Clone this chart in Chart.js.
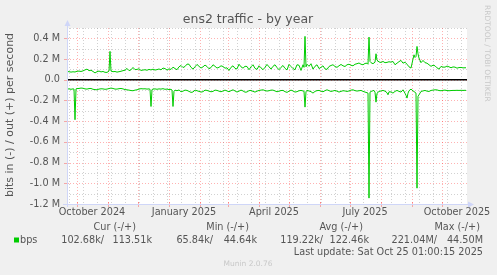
<!DOCTYPE html>
<html>
<head>
<meta charset="utf-8">
<script src="https://cdn.jsdelivr.net/npm/chart.js@4.4.1/dist/chart.umd.min.js"></script>
<style>
  html, body { margin: 0; padding: 0; background: #f0f0f0; }
</style>
</head>
<body>
<canvas id="trafficChart" width="497" height="275"></canvas>
<script>
// day 0 = Sat 2024-09-21, one day per pixel like the rrd year graph
var outDays = [0,2,4,6,8,10,12,14,16,18, 20,22,24,26,28,30,32,34,36,38,
  40,42,43,44,46,48,50,52,54,56, 58,60,62,64,66,68,70,72,74,76,
  78,80,82,84,86,88,90,92,94,96, 98,100,102,104,106,108,110,112,114,116,
  118,120,122,124,126,128,130,132,134,136, 138,140,142,144,146,148,150,152,154,156,
  158,160,162,164,166,168,170,172,174,176, 178,180,182,184,186,188,190,192,194,196,
  198,200,202,204,206,208,210,212,214,216, 218,220,222,224,226,228,230,232,234,236,
  237,238,239,240,242,244,246,248,250,252, 254,256,258,260,262,264,266,268,270,272,
  274,276,278,280,282,284,286,288,290,292, 294,296,298,300,301,302,303,304,306,308,
  309,310,312,314,316,318,320,322,324,326, 328,330,332,334,336,338,340,342,344,346,
  347,348,349,350,351,352,354,356,358,360, 362,364,366,368,370,372,374,376,378,380,
  382,384,386,388,390,392,394,396,398,399];
// out (+), kbit/s
var outKbps = [80,78,74,77,75,82,84,80,86,95, 103,88,92,80,66,78,84,76,80,72,
  71,84,274,84,78,80,74,78,82,88, 92,110,88,96,119,98,100,106,90,94,
  97,92,100,95,102,94,98,104,96,113, 108,94,105,100,122,108,97,125,138,118,
  128,151,150,120,103,125,148,130,113,125, 142,128,106,118,145,130,113,120,135,128,
  112,115,90,120,135,110,105,150,125,112, 130,128,97,125,145,110,100,135,115,97,
  120,148,125,103,130,145,118,97,120,138, 110,95,148,128,108,97,145,140,90,145,
  120,419,125,150,130,155,103,130,145,108, 120,135,105,100,128,138,145,128,120,135,
  148,135,128,145,150,140,135,150,155,162, 150,145,158,160,150,412,177,165,155,170,
  251,190,172,167,177,165,168,174,170,177, 145,160,175,187,160,170,150,125,113,200,
  241,215,225,322,250,209,165,187,165,160, 145,130,140,135,115,103,129,122,122,132,
  125,116,124,122,112,118,119,115,116,116];

var inDays = [0,2,4,6,7,8,9,10,12,14, 16,18,20,22,24,26,28,30,32,34,
  36,38,40,42,44,46,48,50,52,54, 56,58,60,62,64,66,68,70,72,74,
  76,78,80,82,83,84,85,86,88,90, 92,94,96,98,100,102,104,105,106,107,
  108,110,112,114,116,118,120,122,124,126, 128,130,132,134,136,138,140,142,144,146,
  148,150,152,154,156,158,160,162,164,166, 168,170,172,174,176,178,180,182,184,186,
  188,190,192,194,196,198,200,202,204,206, 208,210,212,214,216,218,220,222,224,226,
  228,230,232,234,236,237,238,239,240,242, 244,246,248,250,252,254,256,258,260,262,
  264,266,268,270,272,274,276,278,280,282, 284,286,288,290,292,294,296,298,300,301,
  302,303,304,306,307,308,309,310,312,314, 316,318,320,321,322,324,326,328,330,332,
  334,336,338,339,340,341,342,344,346,347, 348,349,350,351,352,354,356,358,360,362,
  364,366,368,370,372,374,376,378,380,382, 384,386,388,390,392,394,396,398,399];
// in (-), kbit/s, plotted below zero
var inKbps = [90,88,92,88,90,386,88,85,84,80, 82,88,90,85,84,92,95,97,90,87,
  88,92,90,85,80,84,90,90,86,84, 88,95,97,100,104,106,100,97,90,86,
  88,87,90,88,92,258,95,90,88,92, 88,90,86,92,90,95,92,100,258,110,
  100,106,98,116,110,100,103,112,122,118, 100,106,112,119,115,100,103,110,116,112,
  100,103,110,116,108,100,108,116,105,97, 108,119,110,100,108,120,118,105,103,112,
  119,110,103,100,97,104,109,106,100,100, 108,116,110,104,103,115,122,110,100,108,
  119,115,106,103,108,110,264,112,103,108, 115,129,112,105,103,110,116,105,97,105,
  113,108,103,110,119,112,106,108,113,108, 100,97,105,109,106,103,112,119,125,129,
  1143,120,113,106,103,120,216,130,113,108, 103,110,125,145,116,118,129,112,103,112,
  119,97,130,150,177,130,106,90,108,113, 122,129,1047,160,145,113,108,103,110,113,
  103,100,97,98,104,106,102,100,104,106, 104,103,103,102,103,102,103,102,103];

var monthStarts = [10, 41, 71, 102, 133, 161, 192, 222, 253, 283, 314, 345, 375];
var labelDays = [25, 117, 207, 298, 390];
var labelNames = ["October 2024", "January 2025", "April 2025", "July 2025", "October 2025"];
var yTickValues = [-1200000, -1000000, -800000, -600000, -400000, -200000, 0, 200000, 400000];

var FONT = "DejaVu Sans";
var TEXT = "#555555";
var AXIS = "#CFD6F8";

function crisp(v) { return Math.round(v) + 0.5; }

var muninFrame = {
  id: "muninFrame",
  beforeDraw: function(chart) {
    var ctx = chart.ctx, a = chart.chartArea;
    ctx.save();
    ctx.fillStyle = "#f0f0f0";
    ctx.fillRect(0, 0, chart.width, chart.height);
    ctx.fillStyle = "#ffffff";
    ctx.fillRect(a.left, a.top, a.right - a.left, a.bottom - a.top);
    ctx.restore();
  },
  beforeDatasetsDraw: function(chart) {
    var ctx = chart.ctx, a = chart.chartArea;
    var xs = chart.scales.x, ys = chart.scales.y;
    ctx.save();
    ctx.lineWidth = 1;
    ctx.setLineDash([1, 2]);

    // minor grid
    ctx.strokeStyle = "rgba(140,140,140,0.4)";
    ctx.beginPath();
    for (var v = -1100000; v <= 500000; v += 200000) {
      var py = crisp(ys.getPixelForValue(v));
      ctx.moveTo(a.left, py); ctx.lineTo(a.right, py);
    }
    for (var d = 2; d < 400; d += 14) {
      var px = crisp(xs.getPixelForValue(d));
      ctx.moveTo(px, a.top); ctx.lineTo(px, a.bottom);
    }
    ctx.stroke();

    // major grid
    ctx.strokeStyle = "rgba(255,0,0,0.3)";
    ctx.beginPath();
    yTickValues.forEach(function(v) {
      var py = crisp(ys.getPixelForValue(v));
      ctx.moveTo(a.left, py); ctx.lineTo(a.right, py);
    });
    monthStarts.forEach(function(d) {
      var px = crisp(xs.getPixelForValue(d));
      ctx.moveTo(px, a.top); ctx.lineTo(px, a.bottom);
    });
    ctx.stroke();

    // tick marks on axes
    ctx.setLineDash([]);
    ctx.beginPath();
    monthStarts.forEach(function(d) {
      var px = crisp(xs.getPixelForValue(d));
      ctx.moveTo(px, a.bottom - 2); ctx.lineTo(px, a.bottom + 3);
    });
    yTickValues.forEach(function(v) {
      var py = crisp(ys.getPixelForValue(v));
      ctx.moveTo(a.left - 3, py); ctx.lineTo(a.left + 2, py);
    });
    ctx.stroke();
    ctx.restore();
  },
  afterDraw: function(chart) {
    var ctx = chart.ctx, a = chart.chartArea;
    ctx.save();

    // axes with arrows
    var ax = crisp(a.left), ay = crisp(a.bottom);
    ctx.strokeStyle = AXIS;
    ctx.fillStyle = AXIS;
    ctx.lineWidth = 1;
    ctx.beginPath();
    ctx.moveTo(ax, a.bottom + 3); ctx.lineTo(ax, a.top - 4);
    ctx.moveTo(a.left - 4, ay); ctx.lineTo(a.right + 3, ay);
    ctx.stroke();
    ctx.beginPath();
    ctx.moveTo(ax - 3, a.top - 2); ctx.lineTo(ax + 3, a.top - 2); ctx.lineTo(ax, a.top - 8);
    ctx.closePath(); ctx.fill();
    ctx.beginPath();
    ctx.moveTo(a.right + 1, ay - 3); ctx.lineTo(a.right + 1, ay + 3); ctx.lineTo(a.right + 7, ay);
    ctx.closePath(); ctx.fill();

    // title
    ctx.fillStyle = TEXT;
    ctx.textBaseline = "middle";
    ctx.textAlign = "center";
    ctx.font = "12.5px '" + FONT + "'";
    ctx.fillText("ens2 traffic - by year", 248, 19.5);

    // vertical axis title
    ctx.save();
    ctx.translate(10.5, 115);
    ctx.rotate(-Math.PI / 2);
    ctx.font = "11px '" + FONT + "'";
    ctx.fillText("bits in (-) / out (+) per second", 0, 0);
    ctx.restore();

    // legend table
    ctx.font = "9.7px '" + FONT + "'";
    ctx.textAlign = "right";
    var heads = [["Cur (-/+)", 136], ["Min (-/+)", 249], ["Avg (-/+)", 363], ["Max (-/+)", 480]];
    heads.forEach(function(h) { ctx.fillText(h[0], h[1], 227.5); });
    var cells = [["102.68k/", 104], ["113.51k", 152], ["65.84k/", 213], ["44.64k", 257],
                 ["119.22k/", 323], ["122.46k", 369], ["221.04M/", 437], ["44.50M", 483]];
    cells.forEach(function(c) { ctx.fillText(c[0], c[1], 240); });
    ctx.fillText("Last update: Sat Oct 25 01:00:15 2025", 483, 252);
    ctx.textAlign = "left";
    ctx.fillText("bps", 20, 240);
    ctx.fillStyle = "#00cc00";
    ctx.fillRect(14, 237.5, 5, 5);

    // watermarks
    ctx.fillStyle = "#c8c8c8";
    ctx.textAlign = "center";
    ctx.font = "7.5px '" + FONT + "'";
    ctx.fillText("Munin 2.0.76", 248, 264);
    ctx.save();
    ctx.translate(487, 5);
    ctx.rotate(Math.PI / 2);
    ctx.textAlign = "left";
    ctx.fillText("RRDTOOL / TOBI OETIKER", 0, 0);
    ctx.restore();

    ctx.restore();
  }
};

var ctx = document.getElementById("trafficChart").getContext("2d");
var trafficChart = new Chart(ctx, {
  type: "line",
  data: {
    datasets: [{
      label: "zero",
      data: [{x: 0, y: 0}, {x: 400, y: 0}],
      borderColor: "#000000",
      borderWidth: 1.5,
      pointRadius: 0
    }, {
      label: "out",
      data: outDays.map(function(d, i) { return {x: d, y: outKbps[i] * 1000}; }),
      borderColor: "#00cc00",
      borderWidth: 1,
      pointRadius: 0,
      tension: 0
    }, {
      label: "in",
      data: inDays.map(function(d, i) { return {x: d, y: -inKbps[i] * 1000}; }),
      borderColor: "#00cc00",
      borderWidth: 1,
      pointRadius: 0,
      tension: 0
    }]
  },
  options: {
    responsive: false,
    animation: false,
    events: [],
    layout: { padding: { top: 28, right: 30, bottom: 55, left: 0 } },
    plugins: {
      legend: { display: false },
      tooltip: { enabled: false },
      title: { display: false }
    },
    scales: {
      x: {
        type: "linear",
        min: 0,
        max: 400,
        grid: { display: false, drawTicks: false },
        border: { display: false },
        afterFit: function(scale) { scale.height = 16; },
        afterBuildTicks: function(scale) {
          scale.ticks = labelDays.map(function(d) { return {value: d}; });
        },
        ticks: {
          autoSkip: false,
          maxRotation: 0,
          padding: 3,
          color: TEXT,
          font: { family: FONT, size: 9.7 },
          callback: function(value) { return labelNames[labelDays.indexOf(value)]; }
        }
      },
      y: {
        min: -1200000,
        max: 500000,
        grid: { display: false, drawTicks: false },
        border: { display: false },
        afterFit: function(scale) { scale.width = 67; },
        afterBuildTicks: function(scale) {
          scale.ticks = yTickValues.map(function(v) { return {value: v}; });
        },
        ticks: {
          padding: 7,
          color: TEXT,
          font: { family: FONT, size: 9.7 },
          callback: function(value) {
            if (value === 0) return "0.0";
            return (value / 1000000).toFixed(1) + " M";
          }
        }
      }
    }
  },
  plugins: [muninFrame]
});
</script>
</body>
</html>
